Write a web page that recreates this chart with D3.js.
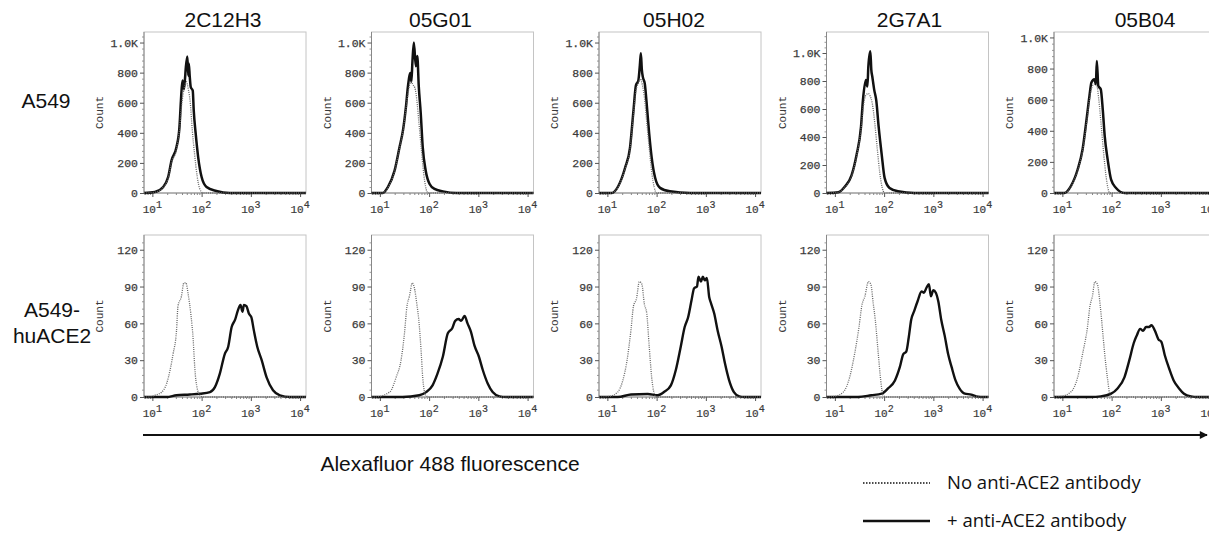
<!DOCTYPE html>
<html>
<head>
<meta charset="utf-8">
<script src="https://cdn.jsdelivr.net/npm/d3@7"></script>
<style>
  body { margin: 0; background: #fff; }
</style>
</head>
<body>
<svg id="chart" width="1209" height="534"></svg>
<script>
// antibody clones (columns) and cell lines (rows)
const antibodies = ["2C12H3", "05G01", "05H02", "2G7A1", "05B04"];
const cellLines = [["A549"], ["A549-", "huACE2"]];

const topYMax = [1070, 1070, 1070, 1150, 1035];
const bottomYMax = [132, 132, 132, 132, 132];
const topYTicks = [0, 200, 400, 600, 800, 1000];
const topYTickLabels = ["0", "200", "400", "600", "800", "1.0K"];
const bottomYTicks = [0, 30, 60, 90, 120];
const xDecades = [1, 2, 3, 4];
const logRange = [0.83, 4.12];

// histograms: [log10 fluorescence, count]
const a549Control = [
  [[0.83,0],[1.05,5],[1.22,38],[1.32,100],[1.39,205],[1.49,290],[1.55,420],[1.60,600],[1.65,700],[1.69,740],[1.73,690],[1.77,600],[1.81,420],[1.86,250],[1.91,110],[1.96,30],[2.03,0],[4.12,0]],
  [[0.83,0],[1.06,0],[1.16,35],[1.30,145],[1.40,300],[1.47,410],[1.53,560],[1.58,680],[1.63,740],[1.67,720],[1.71,700],[1.75,620],[1.79,480],[1.84,300],[1.89,130],[1.93,40],[1.98,0],[4.12,0]],
  [[0.83,0],[1.09,0],[1.22,42],[1.36,160],[1.46,290],[1.53,520],[1.58,680],[1.63,730],[1.67,760],[1.71,720],[1.75,640],[1.80,470],[1.85,300],[1.90,140],[1.95,40],[2.00,0],[4.12,0]],
  [[0.83,0],[1.07,5],[1.20,42],[1.34,120],[1.44,260],[1.53,450],[1.58,620],[1.63,700],[1.68,710],[1.72,690],[1.76,640],[1.81,500],[1.86,320],[1.91,150],[1.96,40],[2.01,0],[4.12,0]],
  [[0.83,0],[1.04,0],[1.17,40],[1.31,145],[1.41,270],[1.50,470],[1.55,600],[1.60,680],[1.65,700],[1.70,690],[1.74,600],[1.79,430],[1.84,250],[1.89,100],[1.93,25],[1.96,0],[4.12,0]]
];
const a549Stained = [
  [[0.83,0],[1.05,7],[1.22,40],[1.32,106],[1.39,217],[1.49,305],[1.55,438],[1.58,615],[1.61,748],[1.64,690],[1.66,748],[1.68,836],[1.71,907],[1.73,780],[1.74,860],[1.76,770],[1.78,703],[1.82,681],[1.84,549],[1.88,394],[1.93,239],[2.0,106],[2.1,40],[2.3,13],[2.57,0],[4.12,0]],
  [[0.83,0],[1.06,0],[1.16,38],[1.30,150],[1.40,306],[1.47,418],[1.53,574],[1.57,709],[1.62,798],[1.64,740],[1.66,865],[1.69,1000],[1.73,843],[1.76,910],[1.79,709],[1.83,530],[1.87,306],[1.93,150],[2.01,60],[2.11,27],[2.28,11],[2.55,0],[4.12,0]],
  [[0.83,0],[1.09,0],[1.22,45],[1.36,168],[1.46,302],[1.53,548],[1.58,716],[1.63,749],[1.66,850],[1.68,928],[1.70,820],[1.72,772],[1.76,727],[1.81,548],[1.85,392],[1.90,235],[1.97,101],[2.07,34],[2.27,11],[2.68,0],[4.12,0]],
  [[0.83,0],[1.07,5],[1.20,44],[1.34,128],[1.44,272],[1.53,470],[1.57,663],[1.63,807],[1.66,760],[1.68,904],[1.72,1012],[1.74,880],[1.76,832],[1.80,735],[1.84,663],[1.89,470],[1.95,278],[2.01,108],[2.11,36],[2.28,12],[2.62,0],[4.12,0]],
  [[0.83,0],[1.04,0],[1.17,43],[1.31,151],[1.41,280],[1.50,495],[1.55,624],[1.59,710],[1.65,731],[1.68,700],[1.70,849],[1.73,688],[1.78,667],[1.82,538],[1.86,366],[1.92,215],[1.99,86],[2.09,32],[2.26,0],[4.12,0]]
];
const ace2Control = [
  [[0.83,0],[0.95,0],[1.05,1.4],[1.19,4],[1.29,11],[1.36,22],[1.42,35],[1.49,54],[1.52,74],[1.59,82],[1.64,93],[1.68,93],[1.73,83],[1.78,68],[1.83,46],[1.86,24.5],[1.91,7],[1.97,1.4],[2.03,0],[4.12,0]],
  [[0.83,0],[0.89,0],[1.2,4],[1.33,16],[1.43,30],[1.50,52],[1.55,74],[1.60,82],[1.66,93],[1.70,89],[1.75,76],[1.79,63],[1.84,36],[1.87,16],[1.93,1.4],[2.0,0],[4.12,0]],
  [[0.83,0],[1.04,0.5],[1.21,4],[1.31,13],[1.40,30],[1.48,55],[1.53,74],[1.59,80],[1.65,94],[1.70,92],[1.75,76],[1.80,68],[1.85,41],[1.90,16],[1.95,3],[2.0,0],[4.12,0]],
  [[0.83,0],[1.0,0.5],[1.17,4],[1.30,16],[1.40,35],[1.49,57],[1.55,75],[1.61,82],[1.68,94],[1.73,92],[1.78,76],[1.82,63],[1.88,36],[1.93,14],[1.98,1.4],[2.04,0],[4.12,0]],
  [[0.83,0],[0.97,0.5],[1.17,4],[1.31,16],[1.41,35],[1.51,57],[1.56,74],[1.61,82],[1.66,94],[1.71,92],[1.77,74],[1.81,57],[1.86,35],[1.92,14],[1.97,1.4],[2.04,0],[4.12,0]]
];
const ace2Stained = [
  [[0.83,0],[1.29,0],[1.49,1.4],[1.76,2],[1.97,2.7],[2.17,4],[2.27,8],[2.37,19],[2.47,35],[2.54,41],[2.61,57],[2.68,63],[2.74,71],[2.79,75],[2.83,69.5],[2.86,75],[2.91,74],[2.96,68],[3.01,65],[3.06,54.5],[3.13,41],[3.22,30],[3.32,16],[3.45,5.5],[3.59,1.4],[3.79,0],[4.12,0]],
  [[0.83,0],[1.46,0],[1.80,1.4],[1.94,4],[2.07,9.5],[2.17,19],[2.28,33],[2.38,52],[2.47,56],[2.53,62],[2.60,63.5],[2.65,62],[2.72,66],[2.78,60],[2.85,53],[2.92,42],[3.01,33],[3.09,22],[3.19,11],[3.29,4],[3.43,0.5],[3.56,0],[4.12,0]],
  [[0.83,0],[1.21,0],[1.48,2],[1.82,2.5],[2.02,1.4],[2.15,4],[2.29,9.5],[2.39,22],[2.49,41],[2.57,57],[2.64,65],[2.71,79],[2.76,88.5],[2.82,90],[2.85,98],[2.90,94],[2.94,98],[2.98,95],[3.02,97],[3.07,81],[3.10,77],[3.17,68],[3.24,54],[3.32,41],[3.39,27],[3.47,14],[3.57,4],[3.68,0.5],[3.78,0],[4.12,0]],
  [[0.83,0],[1.47,0],[1.74,1.4],[1.95,2.7],[2.08,7],[2.22,13.5],[2.32,24.5],[2.39,35],[2.45,37],[2.50,48.5],[2.55,63],[2.61,70],[2.68,78],[2.76,86],[2.81,85],[2.86,89],[2.91,92],[2.95,82],[3.00,87],[3.05,85],[3.10,78],[3.16,63],[3.23,50],[3.30,35],[3.37,24.5],[3.45,13.5],[3.53,7],[3.64,2.7],[3.77,2],[3.87,0.5],[4.04,0],[4.12,0]],
  [[0.83,0],[1.58,0],[1.78,0.5],[1.99,2.7],[2.12,7],[2.26,16],[2.36,30],[2.45,44],[2.51,50],[2.58,55.5],[2.64,54],[2.70,57],[2.76,57],[2.81,58.5],[2.88,54],[2.95,47],[3.01,45],[3.08,34],[3.17,23],[3.26,13.5],[3.37,7],[3.47,2.7],[3.61,0.5],[3.74,0],[4.12,0]]
];

const legendLabels = ["No anti-ACE2 antibody", "+ anti-ACE2 antibody"];
const xAxisTitle = "Alexafluor 488 fluorescence";

// layout
const panelLeft0 = 144, panelStep = 227.5, panelW = 162;
const titleShift = [-2, -12, -6, 2, 10];
const rowBox = [{top: 32, bottom: 193}, {top: 235, bottom: 397}];
const monoFont = "'Liberation Mono', 'DejaVu Sans Mono', monospace";
const sansFont = "'Liberation Sans', Arial, sans-serif";

const svg = d3.select("#chart");

const rows = [
  {yMax: topYMax, ticks: topYTicks, labels: topYTickLabels, control: a549Control, stained: a549Stained, width: 2.5},
  {yMax: bottomYMax, ticks: bottomYTicks, labels: bottomYTicks.map(String), control: ace2Control, stained: ace2Stained, width: 2.4}
];

rows.forEach((row, r) => {
  const box = rowBox[r];
  antibodies.forEach((ab, i) => {
    const left = panelLeft0 + i * panelStep;
    const x = d3.scaleLog().domain([10 ** logRange[0], 10 ** logRange[1]]).range([left, left + panelW]);
    const y = d3.scaleLinear().domain([0, row.yMax[i]]).range([box.bottom, box.top]);
    const g = svg.append("g");

    // frame
    g.append("rect")
      .attr("x", left).attr("y", box.top)
      .attr("width", panelW).attr("height", box.bottom - box.top)
      .attr("fill", "none").attr("stroke", "#c4c4c4").attr("stroke-width", 1);

    // y axis
    const step = row.ticks[1] - row.ticks[0];
    const minorY = d3.range(0, row.yMax[i], step / 5).filter(v => !row.ticks.includes(v));
    const yMinor = g.append("g").attr("transform", `translate(${left},0)`)
      .call(d3.axisLeft(y).tickValues(minorY).tickSize(2).tickFormat(""));
    yMinor.select(".domain").remove();
    yMinor.selectAll("line").attr("stroke", "#999");
    const yAx = g.append("g").attr("transform", `translate(${left},0)`)
      .call(d3.axisLeft(y).tickValues(row.ticks).tickSize(4).tickPadding(2)
        .tickFormat((d, k) => row.labels[k]));
    yAx.select(".domain").attr("stroke", "#888").attr("d", `M0,${box.top}V${box.bottom}`);
    yAx.selectAll("line").attr("stroke", "#555");
    yAx.selectAll("text").attr("font-family", monoFont).attr("font-size", 11.5)
      .attr("fill", "#3a3a3a").attr("stroke", "#3a3a3a").attr("stroke-width", 0.25);

    // x axis
    const minorX = [];
    [0, 1, 2, 3, 4].forEach(dec => d3.range(2, 10).forEach(k => {
      const v = k * 10 ** dec;
      if (v > x.domain()[0] && v < x.domain()[1]) minorX.push(v);
    }));
    const xMinor = g.append("g").attr("transform", `translate(0,${box.bottom})`)
      .call(d3.axisBottom(x).tickValues(minorX).tickSize(2).tickFormat(""));
    xMinor.select(".domain").remove();
    xMinor.selectAll("line").attr("stroke", "#888");
    const xAx = g.append("g").attr("transform", `translate(0,${box.bottom})`)
      .call(d3.axisBottom(x).tickValues(xDecades.map(d => 10 ** d)).tickSize(4).tickFormat(""));
    xAx.select(".domain").attr("stroke", "#888").attr("d", `M${left},0H${left + panelW}`);
    xAx.selectAll("line").attr("stroke", "#555");
    xDecades.forEach(dec => {
      const t = g.append("text")
        .attr("x", x(10 ** dec)).attr("y", box.bottom + 20)
        .attr("text-anchor", "middle")
        .attr("font-family", monoFont).attr("font-size", 11)
        .attr("fill", "#3a3a3a").attr("stroke", "#3a3a3a").attr("stroke-width", 0.2);
      t.append("tspan").text("10");
      t.append("tspan").attr("dy", -5).attr("font-size", 10).text(dec);
    });

    // Count label
    g.append("text")
      .attr("transform", `translate(${left - 41},${(box.top + box.bottom) / 2}) rotate(-90)`)
      .attr("text-anchor", "middle")
      .attr("font-family", monoFont).attr("font-size", 11).attr("fill", "#3a3a3a")
      .text("Count");

    // histograms
    const line = d3.line()
      .x(d => x(10 ** d[0]))
      .y(d => y(d[1]))
      .curve(d3.curveMonotoneX);

    g.append("path")
      .attr("d", line(row.stained[i]))
      .attr("fill", "none").attr("stroke", "#111")
      .attr("stroke-width", row.width).attr("stroke-linejoin", "round");
    g.append("path")
      .attr("d", line(row.control[i]))
      .attr("fill", "none").attr("stroke", "#666")
      .attr("stroke-width", 1.3).attr("stroke-dasharray", "1,1.2");

    if (r === 0) {
      svg.append("text")
        .attr("x", left + panelW / 2 + titleShift[i]).attr("y", 27)
        .attr("text-anchor", "middle")
        .attr("font-family", sansFont).attr("font-size", 21).attr("fill", "#111")
        .text(ab);
    }
  });
});

// row labels
svg.append("text").attr("x", 46).attr("y", 108).attr("text-anchor", "middle")
  .attr("font-family", sansFont).attr("font-size", 21).attr("fill", "#111")
  .text(cellLines[0][0]);
cellLines[1].forEach((s, k) => {
  svg.append("text").attr("x", 52).attr("y", 317 + k * 26).attr("text-anchor", "middle")
    .attr("font-family", sansFont).attr("font-size", 21).attr("fill", "#111")
    .text(s);
});

// shared fluorescence arrow
svg.append("defs").append("marker")
  .attr("id", "arrow").attr("viewBox", "0 0 10 10")
  .attr("refX", 9).attr("refY", 5)
  .attr("markerWidth", 5).attr("markerHeight", 4).attr("orient", "auto")
  .attr("markerUnits", "strokeWidth")
  .append("path").attr("d", "M0,0L10,5L0,10Z").attr("fill", "#111");
svg.append("line")
  .attr("x1", 143).attr("x2", 1207).attr("y1", 435).attr("y2", 435)
  .attr("stroke", "#111").attr("stroke-width", 2)
  .attr("marker-end", "url(#arrow)");
svg.append("text").attr("x", 450).attr("y", 471).attr("text-anchor", "middle")
  .attr("font-family", sansFont).attr("font-size", 21).attr("fill", "#111")
  .text(xAxisTitle);

// legend
const legend = svg.append("g");
legendLabels.forEach((lab, k) => {
  const ly = 483 + k * 38;
  legend.append("line")
    .attr("x1", 863).attr("x2", 930).attr("y1", ly).attr("y2", ly)
    .attr("stroke", "#111")
    .attr("stroke-width", k === 0 ? 1.6 : 2.6)
    .attr("stroke-dasharray", k === 0 ? "1.5,1.5" : null);
  legend.append("text")
    .attr("x", 947).attr("y", ly + 6)
    .attr("font-family", "'Open Sans', 'Noto Sans', sans-serif").attr("font-size", 18.5).attr("fill", "#111")
    .text(lab);
});
</script>
</body>
</html>
